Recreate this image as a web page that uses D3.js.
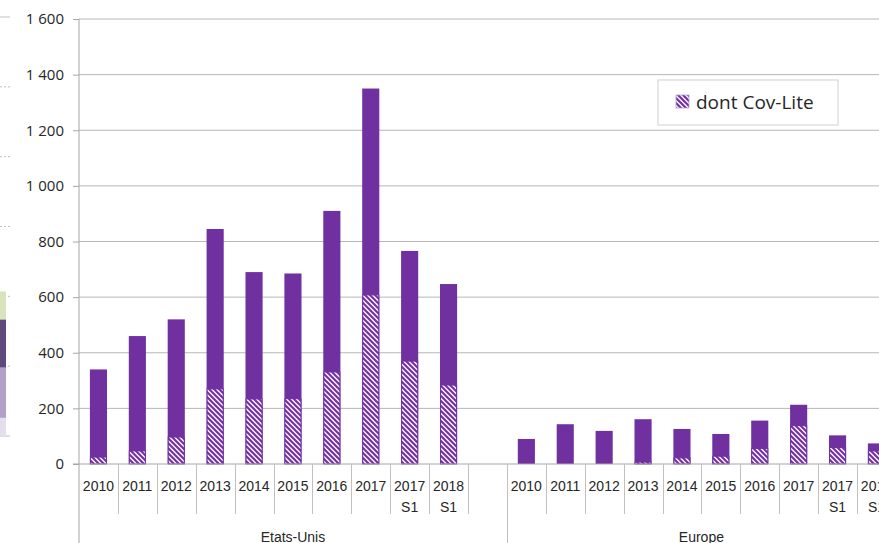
<!DOCTYPE html>
<html>
<head>
<meta charset="utf-8">
<script src="https://cdn.jsdelivr.net/npm/d3@7"></script>
<style>
  body { margin: 0; background: #fff; overflow: hidden; }
  svg { display: block; }
  .grid line { stroke: #b7b7b7; stroke-width: 1; }
  .y-axis text { font-family: "Open Sans", sans-serif; font-size: 15px; fill: #262626; }
  .y-axis line, .y-axis path { stroke: #a6a6a6; }
  .cat-label { font-family: "Liberation Sans", Arial, sans-serif; font-size: 14px; fill: #262626; }
</style>
</head>
<body>
<div id="chart"></div>
<script>
const width = 879
const height = 543
const margins = ({
    top: 19,
    left: 79,
    bottom: 79
})
const purple = "#7030A0"

// bars of the chart
const periods = ["2010", "2011", "2012", "2013", "2014", "2015", "2016", "2017", "2017 S1", "2018 S1"]
const regions = ["Etats-Unis", "Europe"]
const usTotal = [340, 460, 520, 845, 690, 685, 910, 1350, 766, 647]
const usCovLite = [25, 47, 97, 270, 234, 235, 331, 608, 370, 284]
const euTotal = [90, 143, 119, 161, 126, 108, 156, 213, 103, 74]
const euCovLite = [0, 0, 0, 7, 22, 28, 56, 138, 59, 47]
const yTicks = [0, 200, 400, 600, 800, 1000, 1200, 1400, 1600]
const legendLabel = "dont Cov-Lite"

// piece of the neighbour chart cut at the left edge
const sideTicks = [0, 10, 20, 30, 40, 50, 60]
const sideValues = [2.6, 7.2, 6.9, 4.0]
const sideColors = ["#e4dfec", "#b1a0c7", "#604a7b", "#d8e4bc"]

const svg = d3.select("#chart")
    .append("svg")
    .attr("width", width)
    .attr("height", height)

const defs = svg.append("defs")
const hatch = defs.append("pattern")
    .attr("id", "hatch")
    .attr("patternUnits", "userSpaceOnUse")
    .attr("width", 5)
    .attr("height", 5)
hatch.append("rect").attr("width", 5).attr("height", 5).attr("fill", "#f8eefb")
hatch.append("path")
    .attr("d", "M0,0 L5,5 M-1,4 L1,6 M4,-1 L6,1")
    .attr("stroke", purple)
    .attr("stroke-width", 2)

// slots: 10 US periods, one empty slot, 10 Europe periods
let slots = []
periods.forEach((p, i) => slots.push({key: "us" + i, label: p, region: 0, total: usTotal[i], cov: usCovLite[i]}))
slots.push({key: "us-gap", label: "", region: 0, total: null, cov: null})
periods.forEach((p, i) => slots.push({key: "eu" + i, label: p, region: 1, total: euTotal[i], cov: euCovLite[i]}))

const slotWidth = 38.9
const x = d3.scaleBand()
    .domain(slots.map(d => d.key))
    .range([margins.left, margins.left + slots.length * slotWidth])
const y = d3.scaleLinear()
    .domain([0, 1600])
    .range([height - margins.bottom, margins.top])
const barWidth = x.bandwidth() * 0.44
const plotRight = x.range()[1]

// side fragment
const ySide = d3.scaleLinear().domain([0, 60]).range([436, 17])
svg.append("g")
    .selectAll("line")
    .data(sideTicks)
    .enter()
    .append("line")
    .attr("x1", 0)
    .attr("x2", 10)
    .attr("y1", d => ySide(d))
    .attr("y2", d => ySide(d))
    .attr("stroke", "#bfbfbf")
    .attr("stroke-dasharray", (d, i) => (i == 0 || i == sideTicks.length - 1) ? null : "2,2")
let sideStack = d3.cumsum(sideValues)
svg.append("g")
    .selectAll("rect")
    .data(sideValues)
    .enter()
    .append("rect")
    .attr("x", 0)
    .attr("width", 6)
    .attr("y", (d, i) => ySide(sideStack[i]))
    .attr("height", (d, i) => ySide(sideStack[i] - d) - ySide(sideStack[i]))
    .attr("fill", (d, i) => sideColors[i])

// gridlines
svg.append("g")
    .attr("class", "grid")
    .selectAll("line")
    .data(yTicks.filter(d => d > 0))
    .enter()
    .append("line")
    .attr("x1", margins.left)
    .attr("x2", plotRight)
    .attr("y1", d => y(d))
    .attr("y2", d => y(d))

// y axis
const fmt = d3.formatLocale({decimal: ",", thousands: " ", grouping: [3], currency: ["", ""]}).format(",")
const yAxis = svg.append("g")
    .attr("class", "y-axis")
    .attr("transform", `translate(${margins.left},0)`)
    .call(d3.axisLeft(y).tickValues(yTicks).tickSize(6).tickPadding(9).tickFormat(fmt))
yAxis.select(".domain").attr("d", `M0,${margins.top}V${height}`)

// bars
const bars = svg.append("g")
    .selectAll("g")
    .data(slots.filter(d => d.total != null))
    .enter()
    .append("g")
bars.append("rect")
    .attr("x", d => x(d.key) + (x.bandwidth() - barWidth) / 2)
    .attr("width", barWidth)
    .attr("y", d => y(d.total))
    .attr("height", d => y(0) - y(d.total))
    .attr("fill", purple)
bars.filter(d => d.cov > 0)
    .append("rect")
    .attr("x", d => x(d.key) + (x.bandwidth() - barWidth) / 2 + 0.5)
    .attr("width", barWidth - 1)
    .attr("y", d => y(d.cov))
    .attr("height", d => y(0) - y(d.cov))
    .attr("fill", "url(#hatch)")
    .attr("stroke", purple)
    .attr("stroke-width", 1)

// category axis
const xAxisG = svg.append("g")
xAxisG.append("line")
    .attr("x1", margins.left - 6)
    .attr("x2", plotRight)
    .attr("y1", y(0))
    .attr("y2", y(0))
    .attr("stroke", "#a6a6a6")
xAxisG.selectAll(".sep")
    .data(slots.slice(1))
    .enter()
    .append("line")
    .attr("class", "sep")
    .attr("x1", d => Math.round(x(d.key)) + 0.5)
    .attr("x2", d => Math.round(x(d.key)) + 0.5)
    .attr("y1", y(0))
    .attr("y2", d => d.key == "eu0" ? height : y(0) + 50)
    .attr("stroke", "#c0c0c0")
xAxisG.selectAll(".cat-label")
    .data(slots.filter(d => d.label != ""))
    .enter()
    .append("text")
    .attr("class", "cat-label")
    .attr("text-anchor", "middle")
    .attr("x", d => x(d.key) + x.bandwidth() / 2)
    .attr("y", y(0) + 27)
    .each(function(d) {
        let parts = d.label.split(" ")
        d3.select(this).selectAll("tspan")
            .data(parts)
            .enter()
            .append("tspan")
            .attr("x", x(d.key) + x.bandwidth() / 2)
            .attr("dy", (p, i) => i == 0 ? 0 : 21)
            .text(p => p)
    })

// region labels
xAxisG.selectAll(".region-label")
    .data(regions)
    .enter()
    .append("text")
    .attr("class", "cat-label")
    .attr("text-anchor", "middle")
    .attr("x", (d, i) => {
        let group = slots.filter(s => s.region == i)
        return (x(group[0].key) + x(group[group.length - 1].key) + x.bandwidth()) / 2
    })
    .attr("y", height - 1)
    .text(d => d)

// legend
const legend = svg.append("g").attr("transform", "translate(658,80)")
legend.append("rect")
    .attr("width", 180)
    .attr("height", 45)
    .attr("fill", "#fff")
    .attr("stroke", "#d0d0d0")
legend.append("rect")
    .attr("x", 18)
    .attr("y", 15)
    .attr("width", 13)
    .attr("height", 13)
    .attr("fill", "url(#hatch)")
    .attr("stroke", "#b9a3cc")
    .attr("stroke-width", 0.8)
legend.append("text")
    .attr("x", 38)
    .attr("y", 29)
    .attr("font-family", "Open Sans, sans-serif")
    .attr("font-size", 19)
    .attr("fill", "#262626")
    .text(legendLabel)
</script>
</body>
</html>
